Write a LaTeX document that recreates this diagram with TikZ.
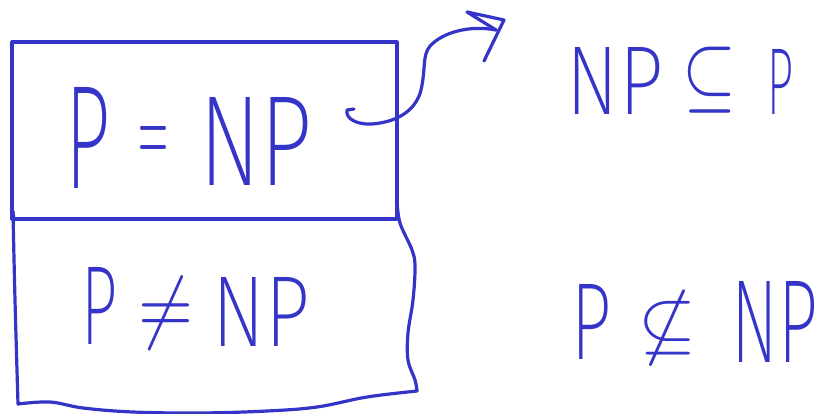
\documentclass[tikz,border=0pt]{standalone}
\usepackage{amssymb}
\usepackage{graphicx}
\usepackage{fontspec}
\newfontfamily\hand{Fira Sans}[UprightFont={* ExtraLight}]
\definecolor{ink}{RGB}{52,52,200}
% squeeze a glyph run into a given width and total height
\newcommand\fitto[3]{\resizebox*{#1}{#2}{#3}}
\tikzset{
  pen/.style={draw=ink, line width=3.2pt, line cap=round, line join=round},
  glyph/.style={inner sep=0pt, outer sep=0pt, text=ink},
}
\begin{document}
\begin{tikzpicture}[x=1pt, y=-1pt]
\useasboundingbox (0,0) rectangle (821,414);

% upper box
\draw[pen] (12,42) rectangle (397,219);
\draw[pen] (13,211) -- (14,220);
% lower, hand-drawn box hanging under the upper one
\draw[pen] plot[smooth, tension=0.6] coordinates {(13,213) (15,300) (18,404)};
\draw[pen] plot[smooth, tension=0.6] coordinates {(18,404) (50,402) (83,408) (133,412) (200,413) (267,411) (317,407) (367,397) (417,391)};
\draw[pen] plot[smooth, tension=0.6] coordinates {(397,200) (400,223) (412,250) (415,267) (413,300) (408,333) (408,360) (415,380) (417,391)};

% statements in the boxes
\node[glyph] (p1)  at (88,138)  {\fitto{45pt}{101pt}{\hand P}};
\node[glyph] (eq)  at (153,144) {\fitto{30pt}{36pt}{$=$}};
\node[glyph] (np1) at (256,141) {\fitto{113pt}{88pt}{\hand NP}};

\node[glyph] (p2)  at (100,306) {\fitto{36pt}{77pt}{\hand P}};
\node[glyph] (ne)  at (166,313) {\fitto{55pt}{72pt}{$\neq$}};
\node[glyph] (np2) at (261,312) {\fitto{97pt}{69pt}{\hand NP}};

% statements on the right
\node[glyph] (np3) at (615,81)  {\fitto{96pt}{67pt}{\hand NP}};
\node[glyph] (sub) at (709,80)  {\fitto{54pt}{66pt}{$\subseteq$}};
\node[glyph] (p3)  at (780,82)  {\fitto{26pt}{65pt}{\hand P}};

\node[glyph] (p4)  at (592,322) {\fitto{40pt}{75pt}{\hand P}};
\node[glyph] (nsub) at (667,328) {\fitto{58pt}{76pt}{$\nsubseteq$}};
\node[glyph] (np4) at (775,322) {\fitto{86pt}{81pt}{\hand NP}};

% squiggly arrow leading out of the upper box
\coordinate (s) at (354,109);
\coordinate (e) at (496,30);
\draw[pen] (s) -- (347,110) .. controls (345,119) and (358,125) .. (372,124)
  .. controls (398,122) and (416,110) .. (421,90)
  .. controls (426,68) and (422,56) .. (430,46)
  .. controls (443,32) and (470,25) .. (e);
\draw[pen] (e) -- (467,12) -- (504,20) -- (484,61);
\end{tikzpicture}
\end{document}
